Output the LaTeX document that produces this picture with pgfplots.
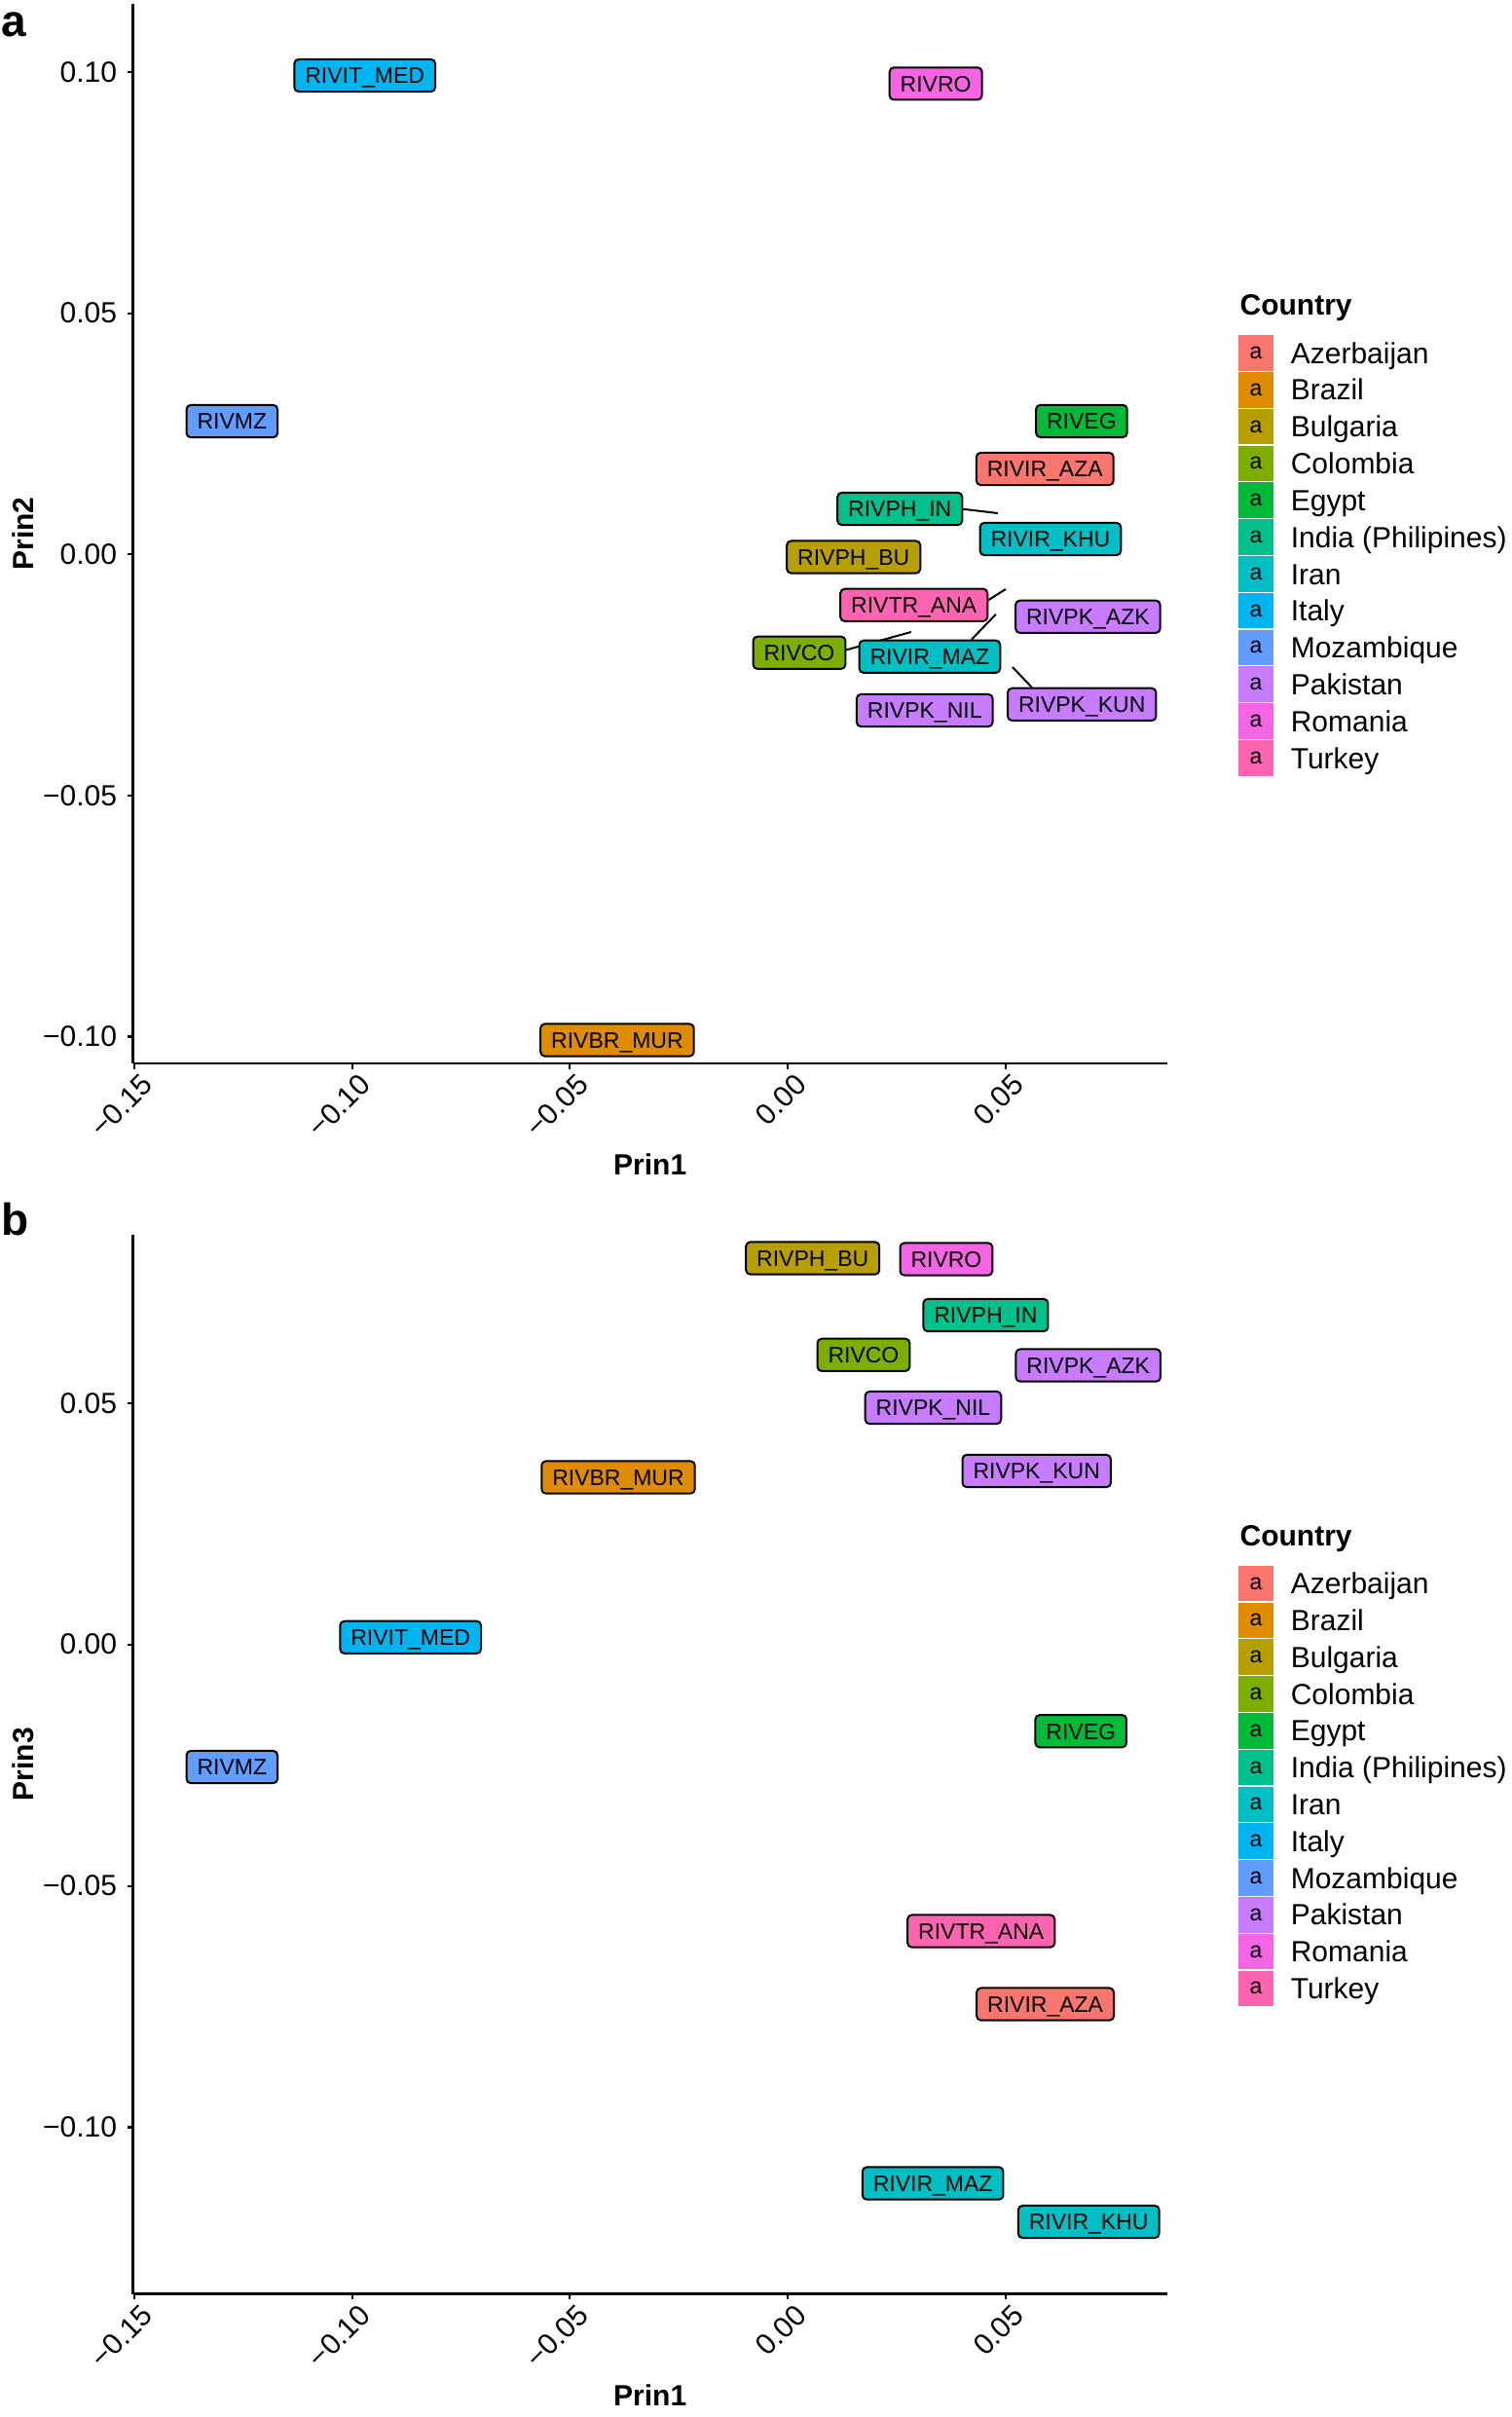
\documentclass[border=0pt]{standalone}
\usepackage{fontspec}
\setmainfont{Liberation Sans}
\usepackage{pgfplots}
\pgfplotsset{compat=1.18}

% ggplot hue palette, 12 countries
\definecolor{cAze}{HTML}{F8766D}
\definecolor{cBra}{HTML}{DE8C00}
\definecolor{cBul}{HTML}{B79F00}
\definecolor{cCol}{HTML}{7CAE00}
\definecolor{cEgy}{HTML}{00BA38}
\definecolor{cInd}{HTML}{00C08B}
\definecolor{cIra}{HTML}{00BFC4}
\definecolor{cIta}{HTML}{00B4F0}
\definecolor{cMoz}{HTML}{619CFF}
\definecolor{cPak}{HTML}{C77CFF}
\definecolor{cRom}{HTML}{F564E3}
\definecolor{cTur}{HTML}{FF64B0}

\newcommand\lbl{\fontsize{5.75}{6.9}\selectfont}
\newcommand\txt{\fontsize{7.5}{9}\selectfont}
\newcommand\ttl{\bfseries\fontsize{7.5}{9}\selectfont}

\pgfplotsset{
  pca/.style={
    scale only axis, width=265.6pt, height=272pt,
    xmin=-0.15034, xmax=0.08715,
    axis lines*=left, axis line style={line width=0.55pt, black},
    tick align=outside, major tick length=1.4pt,
    every tick/.style={black, line width=0.55pt},
    xtick={-0.15,-0.10,-0.05,0,0.05},
    xticklabels={−0.15,−0.10,−0.05,0.00,0.05},
    ticklabel style={font=\txt, text=black},
    xticklabel style={rotate=45, anchor=north east, inner sep=0pt, xshift=0.6pt, yshift=-1.5pt},
    yticklabel style={anchor=east, inner sep=0pt, xshift=-2.5pt},
    xlabel={Prin1},
    every axis x label/.style={at={(axis description cs:0.5,-0.0956)}, anchor=center, font=\ttl},
    every axis y label/.style={at={(axis description cs:-0.1064,0.5)}, rotate=90, anchor=center, font=\ttl},
    clip=false,
  },
  lab/.style={only marks, mark=none, point meta=explicit symbolic,
    nodes near coords={\pgfplotspointmeta},
    every node near coord/.append style={fill=#1, draw=black, line width=0.5pt,
      rounded corners=1.1pt, text=black, font=\lbl, inner xsep=2.75pt,
      inner ysep=2.05pt, text height=4.2pt, text depth=0pt, anchor=center}},
  seg/.style={black, line width=0.5pt},
}

\begin{document}
\begin{tikzpicture}
\path[use as bounding box] (0,0) rectangle (388pt,-620.5pt);

% panel a: Prin1 vs Prin2
\begin{axis}[pca, at={(34.125pt,-273pt)}, anchor=south west,
  ymin=-0.10555, ymax=0.11413, ytick={-0.10,-0.05,0,0.05,0.10},
  yticklabels={−0.10,−0.05,0.00,0.05,0.10}, ylabel={Prin2}]
\addplot[seg] coordinates {(0.03992,0.00942) (0.04826,0.00853)};
\addplot[seg] coordinates {(0.04580,-0.00964) (0.05005,-0.00722)};
\addplot[seg] coordinates {(0.01294,-0.01994) (0.02836,-0.01610)};
\addplot[seg] coordinates {(0.04222,-0.01766) (0.04781,-0.01241)};
\addplot[seg] coordinates {(0.05608,-0.02761) (0.05161,-0.02337)};
\addplot[lab=cAze] coordinates {(0.05907,0.01772) [RIVIR\_AZA]};
\addplot[lab=cBra] coordinates {(-0.03914,-0.10071) [RIVBR\_MUR]};
\addplot[lab=cBul] coordinates {(0.01513,-0.00056) [RIVPH\_BU]};
\addplot[lab=cCol] coordinates {(0.00266,-0.02040) [RIVCO]};
\addplot[lab=cEgy] coordinates {(0.06748,0.02763) [RIVEG]};
\addplot[lab=cInd] coordinates {(0.02575,0.00944) [RIVPH\_IN]};
\addplot[lab=cIra] coordinates {(0.06033,0.00318) [RIVIR\_KHU] (0.03261,-0.02121) [RIVIR\_MAZ]};
\addplot[lab=cIta] coordinates {(-0.09710,0.09930) [RIVIT\_MED]};
\addplot[lab=cMoz] coordinates {(-0.12758,0.02761) [RIVMZ]};
\addplot[lab=cPak] coordinates {(0.06893,-0.01293) [RIVPK\_AZK] (0.03145,-0.03236) [RIVPK\_NIL] (0.06755,-0.03111) [RIVPK\_KUN]};
\addplot[lab=cRom] coordinates {(0.03400,0.09760) [RIVRO]};
\addplot[lab=cTur] coordinates {(0.02899,-0.01051) [RIVTR\_ANA]};
\end{axis}

% panel b: Prin1 vs Prin3
\begin{axis}[pca, at={(34.125pt,-588.875pt)}, anchor=south west,
  ymin=-0.13448, ymax=0.08493, ytick={-0.10,-0.05,0,0.05},
  yticklabels={−0.10,−0.05,0.00,0.05}, ylabel={Prin3}]
\addplot[lab=cAze] coordinates {(0.05914,-0.07449) [RIVIR\_AZA]};
\addplot[lab=cBra] coordinates {(-0.03891,0.03461) [RIVBR\_MUR]};
\addplot[lab=cBul] coordinates {(0.00574,0.07999) [RIVPH\_BU]};
\addplot[lab=cCol] coordinates {(0.01741,0.05996) [RIVCO]};
\addplot[lab=cEgy] coordinates {(0.06732,-0.01796) [RIVEG]};
\addplot[lab=cInd] coordinates {(0.04546,0.06819) [RIVPH\_IN]};
\addplot[lab=cIra] coordinates {(0.03333,-0.11160) [RIVIR\_MAZ] (0.06911,-0.11956) [RIVIR\_KHU]};
\addplot[lab=cIta] coordinates {(-0.08659,0.00148) [RIVIT\_MED]};
\addplot[lab=cMoz] coordinates {(-0.12758,-0.02538) [RIVMZ]};
\addplot[lab=cPak] coordinates {(0.06900,0.05780) [RIVPK\_AZK] (0.03340,0.04903) [RIVPK\_NIL] (0.05715,0.03592) [RIVPK\_KUN]};
\addplot[lab=cRom] coordinates {(0.03641,0.07979) [RIVRO]};
\addplot[lab=cTur] coordinates {(0.04441,-0.05936) [RIVTR\_ANA]};
\end{axis}

% panel letters
\node[anchor=base west, inner sep=0pt, font=\bfseries\fontsize{11.5}{14}\selectfont] at (0.3pt,-9.5pt) {a};
\node[anchor=base west, inner sep=0pt, font=\bfseries\fontsize{11.5}{14}\selectfont] at (0.3pt,-317.1pt) {b};

% legends
\foreach \yo in {0pt,315.875pt}{
  \node[anchor=base west, inner sep=0pt, font=\ttl] at (318.2pt,{-81pt-\yo}) {Country};
  \foreach \c/\n [count=\i from 0] in {cAze/Azerbaijan,cBra/Brazil,cBul/Bulgaria,cCol/Colombia,cEgy/Egypt,cInd/India (Philipines),cIra/Iran,cIta/Italy,cMoz/Mozambique,cPak/Pakistan,cRom/Romania,cTur/Turkey}{
    \node[fill=\c, draw=white, line width=0.3pt, minimum size=9.45pt, inner sep=0pt, font=\lbl, text=black] at (322.5pt,{-90.625pt-\i*9.45pt-\yo}) {a};
    \node[anchor=base west, inner sep=0pt, font=\txt] at (331.25pt,{-93.3pt-\i*9.45pt-\yo}) {\n};
  }
}
\end{tikzpicture}
\end{document}
